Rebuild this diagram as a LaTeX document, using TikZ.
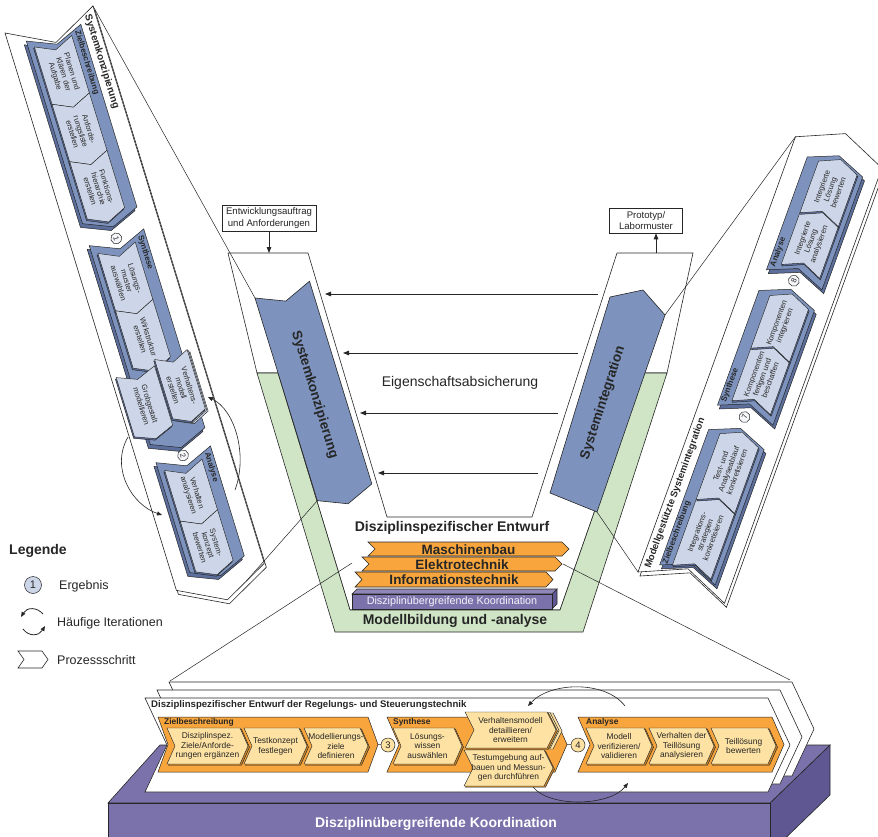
\documentclass[tikz,border=0pt]{standalone}
\usepackage{fontspec}
\setmainfont{Liberation Sans}
\usetikzlibrary{arrows.meta}
\definecolor{bblue}{HTML}{7D93BD}
\definecolor{dblue}{HTML}{5B6E9C}
\definecolor{lblue}{HTML}{CDD6E8}
\definecolor{lgreen}{HTML}{CFE5C5}
\definecolor{orng}{HTML}{F7A53C}
\definecolor{dorng}{HTML}{C98429}
\definecolor{lorng}{HTML}{FDE2A3}
\definecolor{purp}{HTML}{7B72AC}
\definecolor{dpurp}{HTML}{5F5791}
\definecolor{ink}{HTML}{262626}
\newcommand{\chevpath}[5]{(#1,#3) -- (#2,#3) -- ({#2+#5},{(#3+#4)/2}) -- (#2,#4) -- (#1,#4) -- ({#1+#5},{(#3+#4)/2}) -- cycle}
\newcommand{\fs}[2]{\fontsize{#1}{#2}\selectfont}
\newcommand{\pstep}[7]{%
  \draw[stepshadow,stepshift] \chevpath{#1}{#2}{#3}{#4}{#5};
  \draw[stepbox] \chevpath{#1}{#2}{#3}{#4}{#5};
  \node[stxt,txtrot] (#6) at ({(#1+#2)/2+#5/2},{(#3+#4)/2}) {#7};}
\tikzset{
  ln/.style={draw=ink,line width=0.6pt},
  arr/.style={draw=ink,line width=0.8pt,-{Triangle[length=6pt,width=4.5pt]}},
  blockbox/.style={draw=ink,line width=0.5pt,fill=bblue},
  blockshadow/.style={draw=ink,line width=0.5pt,fill=dblue},
  stepbox/.style={draw=ink,line width=0.45pt,fill=lblue},
  stepshadow/.style={draw=ink,line width=0.45pt,fill=dblue},
  stepshift/.style={},
  txtrot/.style={},
  stxt/.style={align=center,text=ink,font=\fs{7.6}{8.6},inner sep=0pt},
  blbl/.style={font=\bfseries\fs{8}{9},text=ink,inner sep=0pt,anchor=west},
  res/.style={circle,draw=ink,line width=0.5pt,fill=white!80!lblue,inner sep=0pt,minimum size=11pt,font=\fs{7.5}{8},text=ink},
  plain/.style={inner sep=0pt,text=ink},
}
\begin{document}
\begin{tikzpicture}[x=1pt,y=-1pt]
\useasboundingbox (0,0) rectangle (878,837);
\fill[white] (0,0) rectangle (878,837);

% ---------------- central V ----------------
\draw[ln,fill=white] (228,253) -- (308,253) -- (387,517) -- (532,517) -- (617,253) -- (693,253) -- (667,373) -- (643,373) -- (560,610) -- (350,610) -- (278,373) -- (257,373) -- cycle;
\draw[ln,fill=lgreen] (257,373) -- (278,373) -- (350,610) -- (560,610) -- (643,373) -- (667,373) -- (583,632) -- (335,632) -- cycle;

\begin{scope}[shift={(255,298)}, x={(0.294pt,-0.956pt)}, y={(0.956pt,0.294pt)}]
  \draw[ln,fill=bblue] \chevpath{0}{212}{0}{57}{12};
  \coordinate (BTL) at (0,0);
  \coordinate (BBL) at (212,0);
  \node[rotate=-73,font=\bfseries\fs{13.5}{15},plain] (skz) at (110,28.5) {Systemkonzipierung};
\end{scope}
\draw[ln,fill=bblue] (550,493) -- (610,297) -- (643,290) -- (665,315) -- (597,512) -- cycle;
\coordinate (BTR) at (665,315);
\coordinate (BBR) at (597,512);
\node[rotate=72,font=\bfseries\fs{13.5}{15},plain] (sint) at (603,403) {Systemintegration};

% arrows Eigenschaftsabsicherung
\coordinate (a1s) at (598,294); \coordinate (a1e) at (325,294);
\coordinate (a2s) at (578,353); \coordinate (a2e) at (343,353);
\coordinate (a3s) at (558,413); \coordinate (a3e) at (360,413);
\coordinate (a4s) at (538,473); \coordinate (a4e) at (378,473);
\draw[arr] (a1s) -- (a1e);
\draw[arr] (a2s) -- (a2e);
\draw[arr] (a3s) -- (a3e);
\draw[arr] (a4s) -- (a4e);
\node[plain,font=\fs{14}{16}] (eig) at (460,383) {Eigenschaftsabsicherung};

% input / output boxes
\node[draw=ink,line width=0.6pt,minimum width=94pt,minimum height=26pt,align=center,font=\fs{9.6}{11.5},inner sep=1pt,text=ink] (ea) at (269,218) {Entwicklungsauftrag\\und Anforderungen};
\coordinate (vtl) at (269,253);
\draw[arr] (ea.south) -- (vtl);
\node[draw=ink,line width=0.6pt,minimum width=73pt,minimum height=25pt,align=center,font=\fs{9.6}{11.5},inner sep=1pt,text=ink] (pl) at (646,220.5) {Prototyp/\\Labormuster};
\coordinate (vtr) at (656,253);
\draw[arr] (vtr) -- (vtr |- pl.south);

% ---------------- disciplines stack ----------------
\node[plain,font=\bfseries\fs{14}{16}] (dse) at (452,528) {Disziplinspezifischer Entwurf};
\draw[ln,fill=orng] \chevpath{368}{562}{542}{556}{7};
\node[plain,font=\bfseries\fs{13.5}{15}] (mb) at (468.5,549.5) {Maschinenbau};
\draw[ln,fill=orng] \chevpath{362}{555}{557}{571}{7};
\node[plain,font=\bfseries\fs{13.5}{15}] (et) at (462,564.5) {Elektrotechnik};
\draw[ln,fill=orng] \chevpath{355}{546}{572}{587}{7};
\node[plain,font=\bfseries\fs{13.5}{15}] (it) at (454,580) {Informationstechnik};
\draw[ln,fill=dpurp] (552,594) -- (557,589) -- (557,604) -- (552,609) -- cycle;
\draw[ln,fill=purp!85!white] (352,594) -- (357,589) -- (557,589) -- (552,594) -- cycle;
\draw[ln,fill=purp] (352,594) rectangle (552,609);
\node[plain,text=white!92!purp,font=\fs{10.8}{12}] (dko) at (452,601.5) {Disziplinübergreifende Koordination};
\node[plain,font=\bfseries\fs{14}{16}] (mba) at (455,621) {Modellbildung und -analyse};

% ---------------- legend ----------------
\node[plain,anchor=west,font=\bfseries\fs{14}{16}] (leg) at (9,551) {Legende};
\node[res,minimum size=17pt,font=\fs{11}{12},fill=lblue] (legc) at (33,585) {1};
\node[plain,anchor=west,font=\fs{12.5}{14}] (legt1) at (59,586) {Ergebnis};
\coordinate (li1) at (43,614); \coordinate (li2) at (21,617);
\coordinate (li3) at (23,629); \coordinate (li4) at (45,626);
\draw[draw=ink,line width=0.8pt,-{Triangle[length=5pt,width=4pt]}] (li1) .. controls (37,607) and (27,607) .. (li2);
\draw[draw=ink,line width=0.8pt,-{Triangle[length=5pt,width=4pt]}] (li3) .. controls (29,637) and (39,636) .. (li4);
\node[plain,anchor=west,font=\fs{12.5}{14}] (legt2) at (57,623) {Häufige Iterationen};
\draw[ln,fill=white] \chevpath{18}{42}{651}{668}{6};
\node[plain,anchor=west,font=\fs{12.5}{14}] (legt3) at (57,660) {Prozessschritt};

% ---------------- left strip: Systemkonzipierung ----------------
\begin{scope}[shift={(5,33)}, x={(0.294pt,-0.956pt)}, y={(0.956pt,0.294pt)},
  txtrot/.style={rotate=-73}, stepshift/.style={shift={(1.2,-1.2)}}]
  \draw[ln,fill=white,shift={(4.4,0.7)}] \chevpath{0}{583}{0}{92}{24};
  \draw[ln,fill=white] \chevpath{0}{583}{0}{92}{24};
  \coordinate (LTR) at (0,92);
  \coordinate (LBR) at (595,69);
  \node[txtrot,font=\bfseries\fs{10}{11},anchor=west,plain] (tL) at (7,84) {Systemkonzipierung};
  % Zielbeschreibung
  \draw[blockshadow,shift={(3,-3)}] \chevpath{14}{205}{18}{75}{12};
  \draw[blockbox] \chevpath{14}{205}{18}{75}{12};
  \node[blbl,txtrot] (zL) at (19,69.5) {Zielbeschreibung};
  \pstep{22}{82}{24}{63}{9}{l1}{Planen und\\Klären der\\Aufgabe}
  \pstep{82}{142}{24}{63}{9}{l2}{Anforde-\\rungsliste\\erstellen}
  \pstep{142}{202}{24}{63}{9}{l3}{Funktions-\\hierarchie\\erstellen}
  \node[res,txtrot] (r1) at (229,46) {1};
  % Synthese
  \draw[blockshadow,shift={(3,-3)}] \chevpath{228}{436}{18}{75}{12};
  \draw[blockbox] \chevpath{228}{436}{18}{75}{12};
  \node[blbl,txtrot] (sL) at (233,69.5) {Synthese};
  \pstep{238}{298}{24}{63}{9}{l4}{Lösungs-\\muster\\auswählen}
  \pstep{298}{358}{24}{63}{9}{l5}{Wirkstruktur\\erstellen}
  \pstep{362}{424}{5}{45}{8}{l6}{Grobgestalt\\modellieren}
  \draw[stepbox,shift={(3,2)}] \chevpath{356}{418}{47}{81}{8};
  \draw[stepbox,shift={(1.5,1)}] \chevpath{356}{418}{47}{81}{8};
  \pstep{356}{418}{47}{81}{8}{l7}{Verhaltens-\\modell\\erstellen}
  \node[res,txtrot] (r2) at (456,46) {2};
  % Analyse
  \draw[blockshadow,shift={(3,-3)}] \chevpath{455}{570}{18}{75}{12};
  \draw[blockbox] \chevpath{455}{570}{18}{75}{12};
  \node[blbl,txtrot] (aL) at (460,69.5) {Analyse};
  \pstep{465}{518}{24}{63}{9}{l8}{Verhalten\\analysieren}
  \pstep{518}{571}{24}{63}{9}{l9}{System-\\konzept\\bewerten}
\end{scope}
\coordinate (itL1) at (128,437); \coordinate (itL2) at (162,515);
\coordinate (itR1) at (235,490); \coordinate (itR2) at (208,397);
\draw[draw=ink,line width=0.6pt,-{Triangle[length=5pt,width=4pt]}] (itL1) .. controls (110,468) and (132,505) .. (itL2);
\draw[draw=ink,line width=0.6pt,-{Triangle[length=5pt,width=4pt]}] (itR1) .. controls (248,455) and (235,410) .. (itR2);

% ---------------- right strip: Modellgestuetzte Systemintegration ----------------
\begin{scope}[shift={(638,572)}, x={(0.34pt,0.94pt)}, y={(0.94pt,-0.34pt)},
  txtrot/.style={rotate=70}, stepshift/.style={shift={(-1.2,1.2)}}]
  \draw[ln,fill=white,shift={(-3.1,3.2)}] \chevpath{0}{463}{0}{92}{20};
  \draw[ln,fill=white] \chevpath{0}{463}{0}{92}{20};
  \coordinate (RTL) at (463,0);
  \coordinate (RBL) at (0,0);
  \node[txtrot,font=\bfseries\fs{9.6}{11},anchor=west,plain] (tR) at (7,8) {Modellgestützte Systemintegration};
  % Zielbeschreibung
  \draw[blockshadow,shift={(-3,3)}] \chevpath{14}{158}{18}{77}{12};
  \draw[blockbox] \chevpath{14}{158}{18}{77}{12};
  \node[blbl,txtrot] (zR) at (17,23) {Zielbeschreibung};
  \pstep{18}{88}{30}{71}{9}{q1}{Integrations-\\strategien\\konkretisieren}
  \pstep{88}{158}{30}{71}{9}{q2}{Test- und\\Analyseablauf\\konkretisieren}
  \node[res,txtrot] (r7) at (182,47.5) {7};
  % Synthese
  \draw[blockshadow,shift={(-3,3)}] \chevpath{184}{306}{18}{77}{12};
  \draw[blockbox] \chevpath{184}{306}{18}{77}{12};
  \node[blbl,txtrot] (sR) at (189,23) {Synthese};
  \pstep{193}{249}{30}{71}{9}{q3}{Komponenten\\fertigen und\\beschaffen}
  \pstep{249}{305}{30}{71}{9}{q4}{Komponenten\\integrieren}
  \node[res,txtrot] (r8) at (327,47.5) {8};
  % Analyse
  \draw[blockshadow,shift={(-3,3)}] \chevpath{328}{448}{18}{77}{12};
  \draw[blockbox] \chevpath{328}{448}{18}{77}{12};
  \node[blbl,txtrot] (aR) at (333,23) {Analyse};
  \pstep{338}{393}{30}{71}{9}{q5}{Integrierte\\Lösung\\analysieren}
  \pstep{393}{448}{30}{71}{9}{q6}{Integrierte\\Lösung\\bewerten}
\end{scope}

% projection lines
\draw[ln,line width=0.5pt] (LTR) -- (BTL);
\draw[ln,line width=0.5pt] (LBR) -- (BBL);
\draw[ln,line width=0.5pt] (RTL) -- (BTR);
\draw[ln,line width=0.5pt] (RBL) -- (BBR);
\coordinate (exL1) at (352,563); \coordinate (exL2) at (170,681);
\coordinate (exR1) at (563,564); \coordinate (exR2) at (790,680);
\draw[ln,line width=0.5pt] (exL1) -- (exL2);
\draw[ln,line width=0.5pt] (exR1) -- (exR2);

% ---------------- bottom panel ----------------
\draw[ln,fill=dpurp] (770,803) -- (830,745) -- (830,795) -- (770,853) -- cycle;
\draw[ln,fill=purp] (108,803) -- (160,745) -- (830,745) -- (770,803) -- cycle;
\draw[ln,fill=purp] (108,803) rectangle (770,845);
\node[plain,text=white,font=\bfseries\fs{14}{16}] (koord) at (436,824) {Disziplinübergreifende Koordination};

\draw[ln,fill=white] \chevpath{169}{792}{682}{776}{22};
\draw[ln,fill=white] \chevpath{157}{780}{690}{784}{22};
\draw[ln,fill=white] \chevpath{145}{768}{698}{792}{22};
\node[plain,anchor=west,font=\bfseries\fs{9.6}{11}] (rst) at (151,705.5) {Disziplinspezifischer Entwurf der Regelungs- und Steuerungstechnik};

\begin{scope}[stepbox/.style={draw=ink,line width=0.45pt,fill=lorng},
  stepshadow/.style={draw=ink,line width=0.45pt,fill=dorng},
  stepshift/.style={shift={(1.5,1.2)}},
  stxt/.style={align=center,text=ink,font=\fs{8.4}{9.8},inner sep=0pt},
  bbl/.style={font=\bfseries\fs{8.4}{9},text=ink,inner sep=0pt,anchor=west}]
  % Zielbeschreibung
  \draw[ln,line width=0.5pt,fill=orng] \chevpath{158}{368}{717}{772}{10};
  \node[bbl] (zb) at (164,722.5) {Zielbeschreibung};
  \pstep{167}{240}{728}{764}{8}{b1}{Disziplinspez.\\Ziele/Anforde-\\rungen ergänzen}
  \pstep{244}{299}{728}{764}{8}{b2}{Testkonzept\\festlegen}
  \pstep{304}{360}{728}{764}{8}{b3}{Modellierungs-\\ziele\\definieren}
  % Synthese
  \draw[ln,line width=0.5pt,fill=orng] \chevpath{387}{555}{717}{772}{12};
  \node[bbl] (sb) at (393,722.5) {Synthese};
  \pstep{393}{454}{728}{764}{8}{s1}{Lösungs-\\wissen\\auswählen}
  \draw[stepbox,shift={(6,1)}] \chevpath{465}{547}{712}{748}{9};
  \draw[stepbox,shift={(3,0.5)}] \chevpath{465}{547}{712}{748}{9};
  \pstep{465}{547}{712}{748}{9}{s2}{Verhaltensmodell\\detaillieren/\\erweitern}
  \pstep{464}{544}{750}{786}{9}{s3}{Testumgebung auf-\\bauen und Messun-\\gen durchführen}
  % Analyse
  \draw[ln,line width=0.5pt,fill=orng] \chevpath{578}{772}{717}{772}{12};
  \node[bbl] (ab) at (586,722.5) {Analyse};
  \pstep{586}{644}{728}{764}{8}{a1}{Modell\\verifizieren/\\validieren}
  \pstep{649}{706}{728}{764}{8}{a2}{Verhalten der\\Teillösung\\analysieren}
  \pstep{711}{768}{728}{764}{8}{a3}{Teillösung\\bewerten}
  % results
  \coordinate (zbtip) at (378,744.5);
  \coordinate (sbtip) at (567,744.5);
  \node[res,fill=lorng,minimum size=14pt,font=\fs{9.5}{10}] (r3) at (388,745) {3};
  \node[res,fill=lorng,minimum size=14pt,font=\fs{9.5}{10}] (r4) at (578,745) {4};
  \draw[ln,line width=0.5pt] (zbtip) -- (r3);
  \draw[ln,line width=0.5pt] (sbtip) -- (r4);
\end{scope}
\coordinate (it1s) at (625,706); \coordinate (it1e) at (528,706);
\coordinate (it2s) at (533,787); \coordinate (it2e) at (628,783);
\draw[draw=ink,line width=0.6pt,-{Triangle[length=5pt,width=4pt]}] (it1s) .. controls (605,680) and (550,682) .. (it1e);
\draw[draw=ink,line width=0.6pt,-{Triangle[length=5pt,width=4pt]}] (it2s) .. controls (550,808) and (610,806) .. (it2e);
\end{tikzpicture}
\end{document}
